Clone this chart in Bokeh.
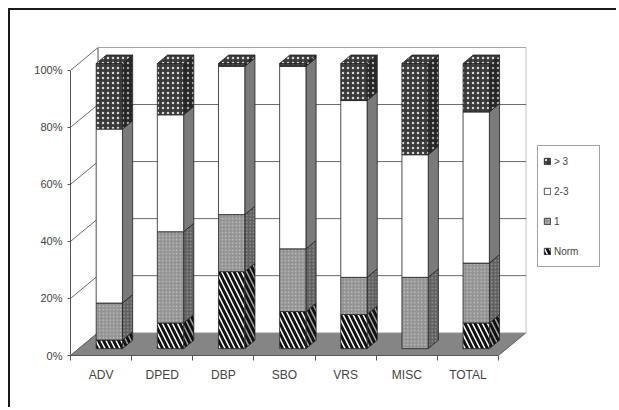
from bokeh.plotting import figure
from bokeh.models import ColumnDataSource, FixedTicker, Legend, LegendItem, Range1d
from bokeh.embed import file_html
from bokeh.resources import INLINE

# ---- data ----
categories = ["ADV", "DPED", "DBP", "SBO", "VRS", "MISC", "TOTAL"]
norm = [3, 9, 27, 13, 12, 0, 9]
one = [13, 32, 20, 22, 13, 25, 21]
two_three = [61, 41, 52, 64, 62, 43, 53]
gt3 = [23, 18, 1, 1, 13, 32, 17]
series_labels = ["Norm", "1", "2-3", "> 3"]
y_ticks = [0, 20, 40, 60, 80, 100]
y_tick_labels = ["0%", "20%", "40%", "60%", "80%", "100%"]

# ---- pseudo-3D geometry (data units) ----
DX, DY = 0.45, 8.0      # depth of the box
F0, F1 = 0.30, 0.67     # bar front / back depth fraction
BW = 0.43               # bar width
N = len(categories)
X_END = 8.88            # room on the right for the legend

FONT = "Liberation Sans"

p = figure(width=608, height=399, x_range=Range1d(0, X_END), y_range=Range1d(0, 100 + DY),
           output_backend="svg", toolbar_location=None,
           min_border_left=60, min_border_right=5, min_border_top=37, min_border_bottom=54)
p.styles = {"border-top": "2px solid #1a1a1a", "border-left": "2px solid #1a1a1a",
            "margin-left": "8px", "margin-top": "8px"}
p.outline_line_color = None
p.xgrid.visible = False
p.ygrid.visible = False
p.background_fill_color = "white"

# floor
p.patch([0, N, N + DX, DX], [0, 0, DY, DY], fill_color="#858585", line_color="#666666", line_width=1)
# back wall
p.patch([DX, N + DX, N + DX, DX], [DY, DY, 100 + DY, 100 + DY], fill_color="white",
        line_color="#c4c4c4", line_width=1)
# gridlines on back wall and left wall
gx, gy = [], []
for v in y_ticks[1:]:
    gx.append([DX, N + DX]); gy.append([v + DY, v + DY])
    gx.append([0, DX]); gy.append([v, v + DY])
gx.append([DX, DX]); gy.append([DY, 100 + DY])
gx.append([0, DX]); gy.append([0, DY])
p.multi_line(gx, gy, line_color="#6a6a6a", line_width=1)

stack = [norm, one, two_three, gt3]
fills = ["#ffffff", "#929292", "#ffffff", "#3a3a3a"]
side_fills = ["#a0a0a0", "#606060", "#7a7a7a", "#262626"]
hatches = ["\\", ".", " ", "."]
hatch_cols = ["#111111", "#c4c4c4", "#ffffff", "#d8d8d8"]
side_hatch_cols = ["#111111", "#9a9a9a", "#7a7a7a", "#a8a8a8"]
hatch_scales = [10, 3.5, 8, 5]
hatch_weights = [3.0, 1, 1, 1.6]

fd = F1 - F0
cum = [0] * N
renderers = []
for s, vals in enumerate(stack):
    left = [i + 0.5 - BW / 2 + F0 * DX for i in range(N)]
    right = [l + BW for l in left]
    bottom = [cum[i] + F0 * DY for i in range(N)]
    top = [cum[i] + vals[i] + F0 * DY for i in range(N)]
    cum = [cum[i] + vals[i] for i in range(N)]
    keep = [i for i in range(N) if vals[i] > 0]
    # side faces
    sx = [[right[i], right[i], right[i] + fd * DX, right[i] + fd * DX] for i in keep]
    sy = [[bottom[i], top[i], top[i] + fd * DY, bottom[i] + fd * DY] for i in keep]
    p.patches(sx, sy, fill_color=side_fills[s], line_color="#222222", line_width=0.8,
              hatch_pattern=hatches[s], hatch_color=side_hatch_cols[s],
              hatch_scale=hatch_scales[s], hatch_weight=hatch_weights[s])
    src = ColumnDataSource(dict(left=[left[i] for i in keep], right=[right[i] for i in keep],
                                bottom=[bottom[i] for i in keep], top=[top[i] for i in keep]))
    r = p.quad(left="left", right="right", bottom="bottom", top="top", source=src,
               fill_color=fills[s], line_color="#222222", line_width=0.8,
               hatch_pattern=hatches[s], hatch_color=hatch_cols[s],
               hatch_scale=hatch_scales[s], hatch_weight=hatch_weights[s])
    renderers.append(r)
    if s == len(stack) - 1:
        tx = [[left[i], right[i], right[i] + fd * DX, left[i] + fd * DX] for i in keep]
        ty = [[top[i], top[i], top[i] + fd * DY, top[i] + fd * DY] for i in keep]
        p.patches(tx, ty, fill_color=fills[s], line_color="#222222", line_width=0.8,
                  hatch_pattern=hatches[s], hatch_color=hatch_cols[s],
                  hatch_scale=hatch_scales[s], hatch_weight=hatch_weights[s])

# axes
p.yaxis.ticker = FixedTicker(ticks=y_ticks)
p.yaxis.major_label_overrides = {t: l for t, l in zip(y_ticks, y_tick_labels)}
p.yaxis.bounds = (0, 100)
p.yaxis.minor_tick_line_color = None
p.yaxis.major_tick_in = 0
p.yaxis.major_tick_out = 3
p.yaxis.axis_line_color = "#555555"
p.yaxis.major_tick_line_color = "#555555"
p.yaxis.major_label_text_font = FONT
p.yaxis.major_label_text_font_size = "11px"
p.yaxis.major_label_text_color = "#444444"
p.yaxis.major_label_standoff = 5

xt = [i + 0.5 for i in range(N)]
p.xaxis.ticker = FixedTicker(ticks=xt, minor_ticks=list(range(N + 1)))
p.xaxis.major_label_overrides = {t: c for t, c in zip(xt, categories)}
p.xaxis.bounds = (0, N)
p.xaxis.major_tick_line_color = None
p.xaxis.minor_tick_line_color = "#555555"
p.xaxis.minor_tick_in = 0
p.xaxis.minor_tick_out = 5
p.xaxis.axis_line_color = "#555555"
p.xaxis.major_label_text_font = FONT
p.xaxis.major_label_text_font_size = "12px"
p.xaxis.major_label_text_color = "#444444"
p.xaxis.major_label_standoff = 6

items = [LegendItem(label=series_labels[s], renderers=[renderers[s]]) for s in [3, 2, 1, 0]]
legend = Legend(items=items, location=(467, 88), orientation="vertical",
                label_text_font=FONT, label_text_font_size="10px", label_text_color="#444444",
                glyph_width=8, glyph_height=8, label_height=20, label_width=40, label_standoff=3,
                spacing=10, padding=5, margin=0,
                border_line_color="#444444", border_line_width=1, background_fill_alpha=1)
p.add_layout(legend)

open("out.html", "w").write(file_html(p, INLINE))
